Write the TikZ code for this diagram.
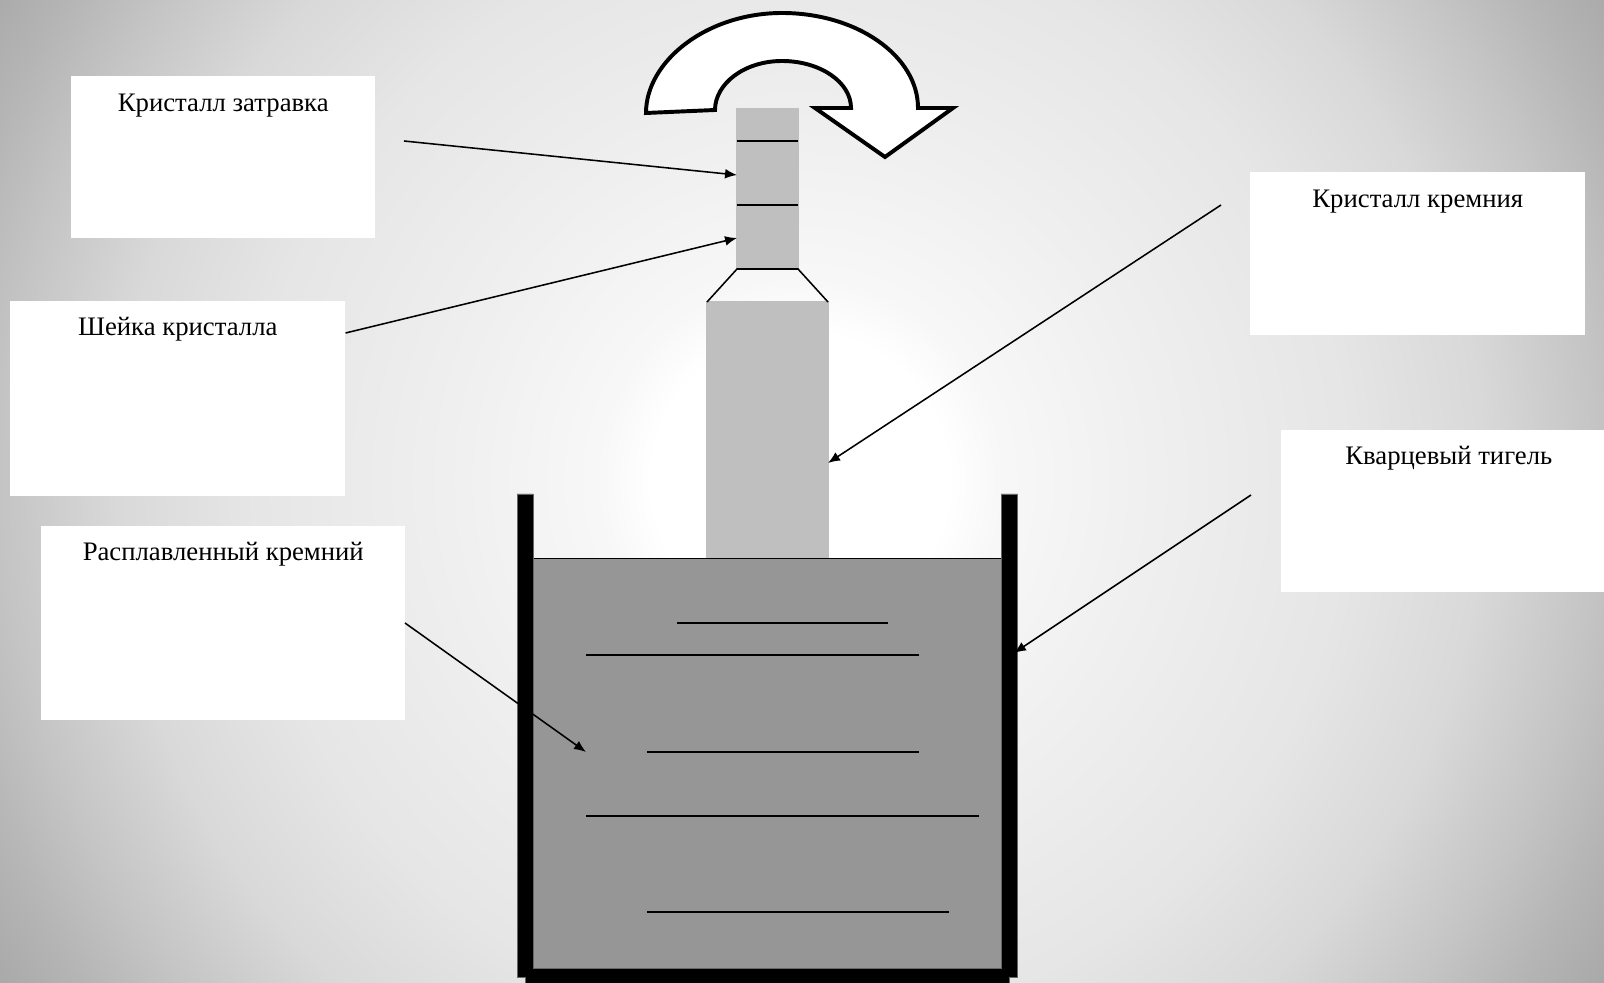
\documentclass[tikz,border=0pt]{standalone}
\usepackage{fontspec}
\setmainfont{Liberation Serif}
\usetikzlibrary{arrows.meta, positioning}
\definecolor{crystalgray}{HTML}{BFBFBF}
\definecolor{meltgray}{HTML}{969696}
\pgfdeclareradialshading{bgglow}{\pgfpoint{0bp}{0bp}}{
  color(0bp)=(white); color(3.9bp)=(white); color(5.3bp)=(black!3); color(9bp)=(black!6);
  color(14.5bp)=(black!10); color(18bp)=(black!15); color(21bp)=(black!23); color(23bp)=(black!29); color(25bp)=(black!34); color(50bp)=(black!34)}

\begin{document}
\begin{tikzpicture}[
  x=0.025cm, y=-0.025cm,
  namebox/.style={rectangle, fill=white, inner sep=0pt, anchor=north west, align=center, font=\fontsize{19}{21}\selectfont},
  leader/.style={draw, line width=1.1pt, -{Latex[length=8.5pt,width=7pt]}},
  wall/.style={fill=black, draw=black!60, line width=0.4pt},
  surface/.style={draw, line width=1.1pt}
]
\useasboundingbox (0,0) rectangle (1604,983);

%% background
\begin{scope}
  \clip (0,0) rectangle (1604,983);
  \shade[shading=bgglow] (-150,-470) rectangle (1750,1430);
\end{scope}

%% name boxes
\node[namebox, minimum width=304*0.025cm, text height=35*0.025cm, text depth=127*0.025cm] (seed)  at (71,76)    {Кристалл затравка};
\node[namebox, minimum width=335*0.025cm, text height=34*0.025cm, text depth=161*0.025cm] (neck)  at (10,301)   {Шейка кристалла};
\node[namebox, minimum width=364*0.025cm, text height=34*0.025cm, text depth=160*0.025cm] (melt)  at (41,526)   {Расплавленный кремний};
\node[namebox, minimum width=335*0.025cm, text height=35*0.025cm, text depth=128*0.025cm] (ingot) at (1250,172) {Кристалл кремния};
\node[namebox, minimum width=335*0.025cm, text height=34*0.025cm, text depth=128*0.025cm] (pot)   at (1281,430) {Кварцевый тигель};

%% crystal
\fill[crystalgray] (736,108) rectangle (799,269);
\fill[crystalgray] (706,301) rectangle (829,559);
\draw[surface] (737,141) -- (798,141);
\draw[surface] (737,205) -- (798,205);
\draw[surface] (707,302) -- (737,269) -- (798,269) -- (828,302);

%% rotation arrow
\draw[fill=white, line width=2.8pt, miter limit=6] (646,113)
    .. controls (646,61) and (707,13) .. (782,13)
    .. controls (857,13) and (918,56) .. (918,108)
    -- (953,108) -- (885,157) -- (815,108) -- (851,108)
    .. controls (851,82) and (820,61) .. (782,61)
    .. controls (744,61) and (715,84) .. (715,110) -- cycle;

%% crucible
\fill[meltgray] (533,559) rectangle (1001,968);
\draw[surface] (533,558.5) -- (1001,558.5);
\path[wall] (517,494) -- (533,494) -- (533,968) -- (1001,968) -- (1001,494) -- (1017,494)
    -- (1017,977) -- (1009,977) -- (1009,983) -- (525,983) -- (525,977) -- (517,977) -- cycle;

%% lines in the melt
\foreach \xa/\xb/\ya in {677/888/623, 586/919/655, 647/919/752, 586/979/816, 647/949/912}
  \draw[surface] (\xa,\ya) -- (\xb,\ya);

%% leaders
\coordinate (seedfrom)  at (404,141);
\coordinate (seedto)    at (737,175);
\coordinate (neckto)    at (737,238);
\coordinate (meltfrom)  at (405,623);
\coordinate (meltto)    at (586,752);
\coordinate (ingotfrom) at (1221,205);
\coordinate (ingotto)   at (828,463);
\coordinate (potfrom)   at (1251,495);
\coordinate (potto)     at (1014,653);
\draw[leader] (seedfrom) -- (seedto);
\draw[leader] (neck.east |- 0,333) -- (neckto);
\draw[leader] (meltfrom) -- (meltto);
\draw[leader] (ingotfrom) -- (ingotto);
\draw[leader] (potfrom) -- (potto);

\end{tikzpicture}
\end{document}
